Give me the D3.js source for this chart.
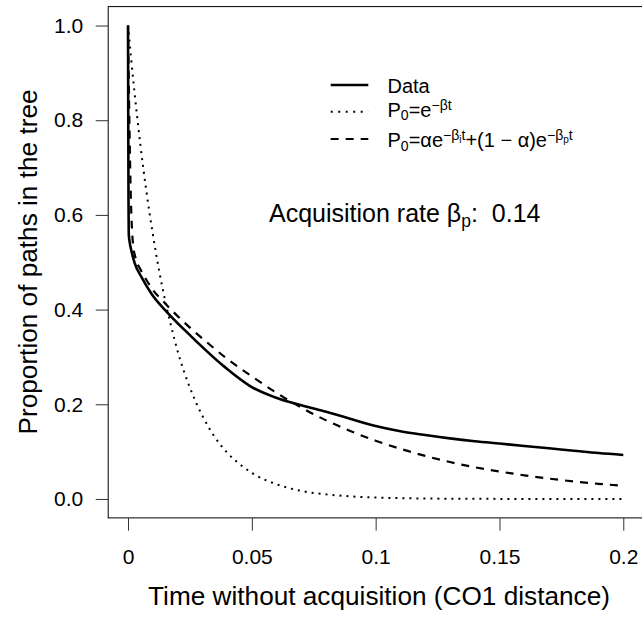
<!DOCTYPE html>
<html><head><meta charset="utf-8">
<script src="https://cdn.jsdelivr.net/npm/d3@7"></script>
<style>
body{margin:0;background:#fff}
svg{display:block}
text{font-family:"Liberation Sans",Arial,Helvetica,sans-serif;fill:#000;white-space:pre}
</style>
</head><body>
<svg id="c" width="642" height="623"></svg>
<script>
// ---- tick values & labels ----
const xTicks = [0, 0.05, 0.1, 0.15, 0.2];
const xTickLabels = ["0", "0.05", "0.1", "0.15", "0.2"];
const yTicks = [0, 0.2, 0.4, 0.6, 0.8, 1.0];
const yTickLabels = ["0.0", "0.2", "0.4", "0.6", "0.8", "1.0"];

// ---- Data (solid) ----
const dataT = [0, 0.0001, 0.0002, 0.0003, 0.0006, 0.0013, 0.0027, 0.0054, 0.0094, 0.0162, 0.0256, 0.039, 0.0498, 0.0592, 0.07, 0.08, 0.09, 0.1, 0.11, 0.12, 0.13, 0.14, 0.15, 0.16, 0.17, 0.18, 0.19, 0.2];
const dataP = [1.0, 0.80, 0.63, 0.561, 0.545, 0.526, 0.498, 0.469, 0.434, 0.392, 0.343, 0.279, 0.237, 0.215, 0.198, 0.184, 0.169, 0.154, 0.143, 0.135, 0.128, 0.122, 0.117, 0.112, 0.107, 0.102, 0.097, 0.093];

// ---- single exponential model (dotted) ----
const singleT = [0, 0.0025, 0.005, 0.0075, 0.01, 0.0125, 0.015, 0.0175, 0.02, 0.025, 0.03, 0.035, 0.04, 0.045, 0.05, 0.06, 0.07, 0.08, 0.09, 0.1, 0.12, 0.14, 0.16, 0.2];
const singleP = [1.0, 0.865, 0.748, 0.647, 0.56, 0.484, 0.419, 0.363, 0.313, 0.235, 0.176, 0.131, 0.098, 0.074, 0.055, 0.031, 0.017, 0.0097, 0.0054, 0.003, 0.001, 0.0003, 0.0001, 0];

// ---- double exponential model (dashed) ----
const doubleT = [0, 0.0004, 0.0008, 0.0012, 0.0016, 0.002, 0.003, 0.005, 0.0067, 0.01, 0.015, 0.0189, 0.025, 0.0323, 0.04, 0.0458, 0.05, 0.06, 0.07, 0.08, 0.09, 0.1, 0.11, 0.12, 0.13, 0.14, 0.15, 0.16, 0.17, 0.18, 0.19, 0.2];
const doubleP = [1.0, 0.85, 0.72, 0.625, 0.57, 0.54, 0.51, 0.485, 0.469, 0.442, 0.413, 0.392, 0.362, 0.329, 0.296, 0.274, 0.259, 0.224, 0.193, 0.166, 0.143, 0.123, 0.106, 0.091, 0.078, 0.067, 0.058, 0.050, 0.043, 0.037, 0.032, 0.028];

const xTitle = "Time without acquisition (CO1 distance)";
const yTitle = "Proportion of paths in the tree";

// ---- drawing ----
const svg = d3.select("#c");
svg.append("rect").attr("width", 642).attr("height", 623).attr("fill", "#fff");

const pL = 108.2, pR = 643.1, pT = 6.6, pB = 517.9;
const x = d3.scaleLinear().domain([-0.008, 0.208]).range([pL, pR]);
const y = d3.scaleLinear().domain([-0.04, 1.04]).range([pB, pT]);

// box
svg.append("rect").attr("x", pL).attr("y", pT)
  .attr("width", pR - pL).attr("height", pB - pT)
  .attr("fill", "none").attr("stroke", "#000").attr("stroke-width", 1);

// axes
const yAxis = d3.axisLeft(y).tickValues(yTicks)
  .tickFormat((d, i) => yTickLabels[i]).tickSize(12.5).tickPadding(12.5);
const gy = svg.append("g").attr("transform", `translate(${pL},0)`).call(yAxis);
gy.select(".domain").remove();
gy.selectAll("text").attr("font-size", 21).attr("font-family", null);
gy.selectAll("line").attr("stroke", "#333");

const xAxis = d3.axisBottom(x).tickValues(xTicks)
  .tickFormat((d, i) => xTickLabels[i]).tickSize(12.8).tickPadding(18.4);
const gx = svg.append("g").attr("transform", `translate(0,${pB})`).call(xAxis);
gx.select(".domain").remove();
gx.selectAll("text").attr("font-size", 21).attr("font-family", null);
gx.selectAll("line").attr("stroke", "#333");

// titles
svg.append("text").attr("x", 379).attr("y", 605).attr("text-anchor", "middle")
  .attr("font-size", 26.2).text(xTitle);
svg.append("text").attr("transform", "translate(37,262) rotate(-90)")
  .attr("text-anchor", "middle").attr("font-size", 26.2).text(yTitle);

// lines
const mk = (T, P) => T.map((t, i) => [t, P[i]]);
const line = d3.line().x(d => x(d[0])).y(d => y(d[1])).curve(d3.curveMonotoneX);
svg.append("path").datum(mk(singleT, singleP)).attr("d", line)
  .attr("fill", "none").attr("stroke", "#000").attr("stroke-width", 2)
  .attr("stroke-dasharray", "2,5");
svg.append("path").datum(mk(doubleT, doubleP)).attr("d", line)
  .attr("fill", "none").attr("stroke", "#000").attr("stroke-width", 2.2)
  .attr("stroke-dasharray", "8,7");
svg.append("path").datum(mk(dataT, dataP)).attr("d", line)
  .attr("fill", "none").attr("stroke", "#000").attr("stroke-width", 2.6)
  .attr("stroke-linejoin", "round");

// rich text helper
function rich(xp, yp, parts) {
  const t = svg.append("text").attr("x", xp).attr("y", yp);
  parts.forEach(p => {
    t.append("tspan").attr("y", yp + p[2]).attr("font-size", p[1]).text(p[0]);
  });
  return t;
}

// legend
const lx1 = 330.7, lx2 = 368.3, tx = 387.5;
svg.append("line").attr("x1", lx1).attr("x2", lx2).attr("y1", 85).attr("y2", 85)
  .attr("stroke", "#000").attr("stroke-width", 2.4);
svg.append("line").attr("x1", lx1).attr("x2", lx2).attr("y1", 111.7).attr("y2", 111.7)
  .attr("stroke", "#000").attr("stroke-width", 2).attr("stroke-dasharray", "2,5.5");
svg.append("line").attr("x1", lx1).attr("x2", lx2).attr("y1", 139).attr("y2", 139)
  .attr("stroke", "#000").attr("stroke-width", 2.2).attr("stroke-dasharray", "8,7");

rich(tx, 93.3, [["Data", 20, 0]]);
rich(tx, 116.7, [["P", 20, 0], ["0", 14, 3.5], ["=e", 20, 0], ["\u2212\u03B2t", 14, -7]]);
rich(tx, 147.3, [["P", 20, 0], ["0", 14, 3.5], ["=\u03B1e", 20, 0], ["\u2212\u03B2", 14, -7], ["i", 10, -4.5], ["t", 14, -7],
  ["+(1 \u2212 \u03B1)e", 20, 0], ["\u2212\u03B2", 14, -7], ["p", 10, -4.5], ["t", 14, -7]]);

// annotation
rich(269, 221.7, [["Acquisition rate \u03B2", 25, 0], ["p", 17.5, 5], [":  0.14", 25, 0]]);
</script>
</body></html>
